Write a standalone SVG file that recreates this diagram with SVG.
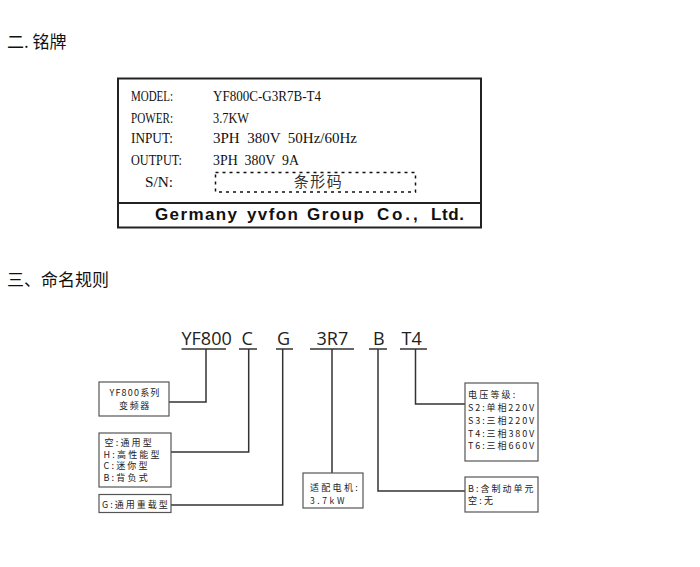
<svg xmlns="http://www.w3.org/2000/svg" width="700" height="567" viewBox="0 0 700 567">
<style>
.h{font-family:"Noto Sans CJK SC","Noto Sans",sans-serif;font-size:17px;fill:#111}
.np{font-family:"Liberation Serif","Noto Sans CJK SC",serif;font-size:15px;fill:#111}
.co{font-family:"Liberation Sans",Arial,sans-serif;font-size:17px;font-weight:bold;fill:#111}
.code{font-family:"Open Sans","Noto Sans",sans-serif;font-size:18px;fill:#222}
.bx{fill:#fff;stroke:#555;stroke-width:1.2}
.t{font-family:"Noto Sans CJK SC","Noto Sans",sans-serif;font-size:9px;fill:#222;letter-spacing:2.2px}
.ul{stroke:#333;stroke-width:1.5;fill:none}
.cn{stroke:#333;stroke-width:1.5;fill:none}
</style>
<rect width="700" height="567" fill="#fff"/>
<text class="h" x="7" y="48">二. 铭牌</text>
<text class="h" x="7" y="286">三、命名规则</text>

<g id="nameplate">
<rect x="118" y="78.5" width="363" height="149" fill="#fff" stroke="#222" stroke-width="2"/>
<line x1="118" y1="203" x2="481" y2="203" stroke="#222" stroke-width="2"/>
<text class="np" x="131" y="101" textLength="42" lengthAdjust="spacingAndGlyphs">MODEL:</text>
<text class="np" x="131" y="122.5" textLength="42" lengthAdjust="spacingAndGlyphs">POWER:</text>
<text class="np" x="131" y="142.5" textLength="42" lengthAdjust="spacingAndGlyphs">INPUT:</text>
<text class="np" x="131" y="165" textLength="51" lengthAdjust="spacingAndGlyphs">OUTPUT:</text>
<text class="np" x="145" y="186.5" textLength="28" lengthAdjust="spacingAndGlyphs">S/N:</text>
<text class="np" x="213" y="101" textLength="108" lengthAdjust="spacingAndGlyphs">YF800C-G3R7B-T4</text>
<text class="np" x="213" y="122.5" textLength="36" lengthAdjust="spacingAndGlyphs">3.7KW</text>
<text class="np" x="213" y="142.5" xml:space="preserve" textLength="144" lengthAdjust="spacingAndGlyphs">3PH  380V  50Hz/60Hz</text>
<text class="np" x="213" y="165" xml:space="preserve" textLength="86" lengthAdjust="spacingAndGlyphs">3PH  380V  9A</text>
<rect x="215.5" y="172.5" width="200" height="19.5" fill="none" stroke="#111" stroke-width="1.5" stroke-dasharray="3,4"/>
<text x="318.5" y="187" text-anchor="middle" style="font-family:'Noto Sans CJK SC',sans-serif;font-size:15px;fill:#333;letter-spacing:1.5px">条形码</text>
<text class="co" x="155" y="219.5" textLength="82" lengthAdjust="spacing">Germany</text>
<text class="co" x="247" y="219.5" textLength="51" lengthAdjust="spacing">yvfon</text>
<text class="co" x="307" y="219.5" textLength="57" lengthAdjust="spacing">Group</text>
<text class="co" x="377" y="219.5" textLength="33" lengthAdjust="spacing">Co.</text>
<text class="co" x="413" y="219.5">,</text>
<text class="co" x="431" y="219.5" textLength="33" lengthAdjust="spacing">Ltd.</text>
</g>

<g id="code">
<text class="code" x="181.5" y="345">YF800</text>
<text class="code" x="241.5" y="345">C</text>
<text class="code" x="277" y="345">G</text>
<text class="code" x="316.5" y="345">3R7</text>
<text class="code" x="373" y="345">B</text>
<text class="code" x="401.5" y="345">T4</text>
<line class="ul" x1="181.5" y1="349" x2="226" y2="349"/>
<line class="ul" x1="239" y1="349" x2="257" y2="349"/>
<line class="ul" x1="276" y1="349" x2="293" y2="349"/>
<line class="ul" x1="310" y1="349" x2="354" y2="349"/>
<line class="ul" x1="369" y1="349" x2="387" y2="349"/>
<line class="ul" x1="400" y1="349" x2="427" y2="349"/>
</g>

<g id="connectors">
<polyline class="cn" points="206,349 206,402 169,402"/>
<polyline class="cn" points="248.7,349 248.7,452 171,452"/>
<polyline class="cn" points="282.7,349 282.7,505 171,505"/>
<polyline class="cn" points="332,349 332,473"/>
<polyline class="cn" points="378,349 378,491 465,491"/>
<polyline class="cn" points="415.5,349 415.5,404 465,404"/>
</g>

<g id="n-series">
<rect class="bx" x="99" y="382" width="70" height="34"/>
<text class="t" x="135" y="396" text-anchor="middle" style="letter-spacing:1.2px">YF800系列</text>
<text class="t" x="135" y="409" text-anchor="middle" style="letter-spacing:1.6px">变频器</text>
</g>

<g id="n-type">
<rect class="bx" x="99" y="433" width="72" height="54"/>
<text class="t" x="104.5" y="446">空:通用型</text>
<text class="t" x="103.5" y="457.5">H:高性能型</text>
<text class="t" x="103.5" y="469">C:迷你型</text>
<text class="t" x="103.5" y="481">B:背负式</text>
</g>

<g id="n-load">
<rect class="bx" x="99" y="494.5" width="72" height="18"/>
<text class="t" x="102" y="508" style="letter-spacing:2px">G:通用重载型</text>
</g>

<g id="n-power">
<rect class="bx" x="303" y="473" width="60" height="35"/>
<text class="t" x="310" y="491" style="letter-spacing:2.3px">适配电机:</text>
<text class="t" x="310" y="504" style="font-size:8.5px;letter-spacing:2.6px">3.7kW</text>
</g>

<g id="n-brake">
<rect class="bx" x="465" y="477" width="73" height="35"/>
<text class="t" x="468" y="492" style="letter-spacing:2px">B:含制动单元</text>
<text class="t" x="468" y="504">空:无</text>
</g>

<g id="n-voltage">
<rect class="bx" x="465" y="383" width="73" height="78"/>
<text class="t" x="468" y="398">电压等级:</text>
<text class="t" x="468" y="411" style="letter-spacing:1.9px">S2:单相220V</text>
<text class="t" x="468" y="424" style="letter-spacing:1.9px">S3:三相220V</text>
<text class="t" x="468" y="436.5" style="letter-spacing:1.9px">T4:三相380V</text>
<text class="t" x="468" y="449" style="letter-spacing:1.9px">T6:三相660V</text>
</g>
</svg>
